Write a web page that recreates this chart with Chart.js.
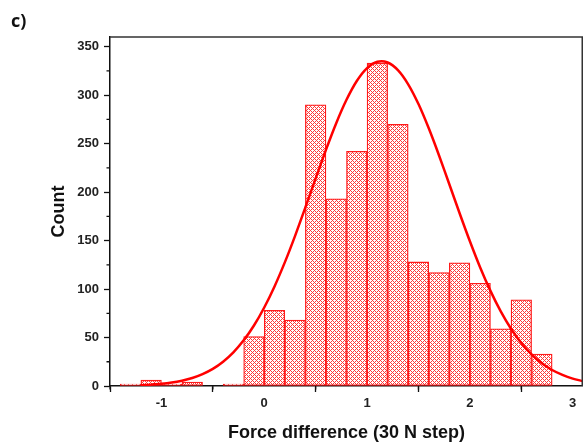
<!DOCTYPE html>
<html>
<head>
<meta charset="utf-8">
<script src="https://cdn.jsdelivr.net/npm/chart.js@4.4.1/dist/chart.umd.min.js"></script>
<style>
  body { margin: 0; background: #fff; }
  #wrap { position: relative; width: 583px; height: 445px; }
  #panel { position: absolute; left: 11px; top: 8px; font: bold 18px "Open Sans", sans-serif; color: #111; }
</style>
</head>
<body>
<div id="wrap">
  <canvas id="histChart" width="583" height="445"></canvas>
  <div id="panel">c)</div>
</div>
<script>
// histogram bins (width 0.2)
const binCenters = [-1.3, -1.1, -0.9, -0.7, -0.5, -0.3, -0.1, 0.1, 0.3, 0.5, 0.7, 0.9, 1.1, 1.3, 1.5, 1.7, 1.9, 2.1, 2.3, 2.5, 2.7];
const binCounts = [2, 6, 2, 4, 0, 2, 51, 78, 68, 290, 193, 242, 333, 270, 128, 117, 127, 106, 59, 89, 33];

// gaussian fit curve
const fitX = [-1.2, -1.1, -1.0, -0.9, -0.8, -0.7, -0.6, -0.5, -0.4, -0.3, -0.2, -0.1, 0.0, 0.1, 0.2, 0.3, 0.4, 0.5, 0.6, 0.7, 0.8, 0.9,
              1.0, 1.1, 1.2, 1.3, 1.4, 1.5, 1.6, 1.7, 1.8, 1.9, 2.0, 2.1, 2.2, 2.3, 2.4, 2.5, 2.6, 2.7, 2.8, 2.9, 3.0, 3.1];
const fitY = [0.8, 1.4, 2.2, 3.5, 5.5, 8.3, 12.3, 17.7, 25.1, 34.7, 47.1, 62.4, 81.0, 102.7, 127.5, 154.9, 184.2, 214.1, 243.6, 271.1, 295.2, 314.6,
              327.9, 334.4, 333.7, 325.8, 311.2, 290.8, 265.8, 237.8, 208.1, 178.2, 149.3, 122.3, 98.1, 77.0, 59.1, 44.4, 32.6, 23.4, 16.5, 11.4, 7.6, 5.0];

const xTicks = [-1, 0, 1, 2, 3];
const xMinorTicks = [-1.5, -0.5, 0.5, 1.5, 2.5];
const yTicks = [0, 50, 100, 150, 200, 250, 300, 350];
const yMinorTicks = [25, 75, 125, 175, 225, 275, 325];

// cross hatch fill like the original
function makeHatch() {
    const c = document.createElement('canvas');
    c.width = 4; c.height = 4;
    const g = c.getContext('2d');
    g.fillStyle = '#fff';
    g.fillRect(0, 0, 4, 4);
    g.fillStyle = 'rgba(255, 0, 0, 0.78)';
    for (let x = 0; x < 4; x++) {
        for (let y = 0; y < 4; y++) {
            if ((x + y) % 4 === 0 || (x - y + 4) % 4 === 0) g.fillRect(x, y, 1, 1);
        }
    }
    return document.getElementById('histChart').getContext('2d').createPattern(c, 'repeat');
}

const axisFont = { family: 'Arial, "Liberation Sans", sans-serif', size: 13, weight: 'bold' };
const titleFont = { family: 'Arial, "Liberation Sans", sans-serif', size: 18, weight: 'bold' };

const framePlugin = {
    id: 'frame',
    afterDraw(chart) {
        const { ctx, chartArea: a, scales } = chart;
        ctx.save();
        ctx.strokeStyle = '#333';
        ctx.lineWidth = 1.5;
        ctx.beginPath();
        ctx.moveTo(a.left, a.top);
        ctx.lineTo(a.right - 0.75, a.top);
        ctx.lineTo(a.right - 0.75, a.bottom);
        ctx.stroke();
        // minor ticks
        ctx.strokeStyle = '#111';
        ctx.lineWidth = 1.3;
        ctx.beginPath();
        yMinorTicks.forEach(v => {
            const py = scales.y.getPixelForValue(v);
            ctx.moveTo(a.left - 3.5, py);
            ctx.lineTo(a.left, py);
        });
        xMinorTicks.forEach(v => {
            const px = scales.x.getPixelForValue(v);
            ctx.moveTo(px, a.bottom);
            ctx.lineTo(px, a.bottom + 3.5);
        });
        ctx.stroke();
        ctx.restore();
    }
};

new Chart(document.getElementById('histChart'), {
    type: 'bar',
    data: {
        datasets: [{
            type: 'line',
            label: 'Gauss fit',
            data: fitX.map((x, i) => ({ x: x, y: fitY[i] })),
            borderColor: '#ff0000',
            borderWidth: 2.5,
            pointRadius: 0,
            tension: 0.3,
            fill: false,
            order: 0
        }, {
            label: 'Count',
            data: binCenters.map((x, i) => ({ x: x, y: binCounts[i] })),
            backgroundColor: makeHatch(),
            borderColor: '#ff1a1a',
            borderWidth: 1.3,
            borderSkipped: false,
            barPercentage: 1,
            categoryPercentage: 1,
            order: 1
        }]
    },
    options: {
        responsive: false,
        animation: false,
        layout: { padding: { left: 0, right: 0, top: 37, bottom: 0 } },
        plugins: {
            legend: { display: false },
            tooltip: { enabled: false }
        },
        scales: {
            x: {
                type: 'linear',
                min: -1.5,
                max: 3.1,
                offset: false,
                afterBuildTicks: (scale) => { scale.ticks = xTicks.map(v => ({ value: v })); },
                afterFit: (scale) => { scale.height = 59; },
                grid: { drawOnChartArea: false, drawTicks: true, tickLength: 6, tickColor: '#111', tickWidth: 1.3 },
                border: { color: '#111', width: 1.5 },
                ticks: { font: axisFont, color: '#222', padding: 4, maxRotation: 0 },
                title: { display: true, text: 'Force difference (30 N step)', font: titleFont, color: '#111', padding: { top: 0, bottom: 1 } }
            },
            y: {
                min: 0,
                max: 360,
                afterBuildTicks: (scale) => { scale.ticks = yTicks.map(v => ({ value: v })); },
                afterFit: (scale) => { scale.width = 110; },
                grid: { drawOnChartArea: false, drawTicks: true, tickLength: 6, tickColor: '#111', tickWidth: 1.3 },
                border: { color: '#111', width: 1.5 },
                ticks: { font: axisFont, color: '#222', padding: 5 },
                title: { display: true, text: 'Count', font: titleFont, color: '#111', padding: { top: 48, bottom: 0 } }
            }
        }
    },
    plugins: [framePlugin]
});
</script>
</body>
</html>
